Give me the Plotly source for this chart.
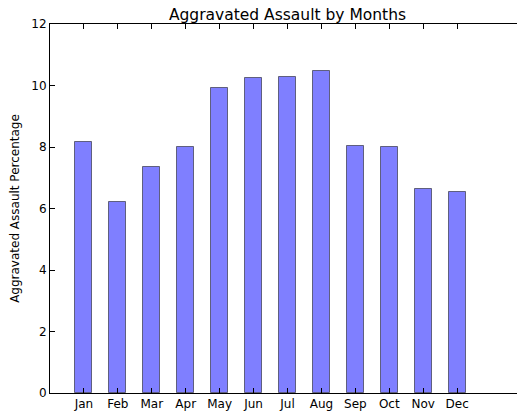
import plotly.graph_objects as go

months = ['Jan', 'Feb', 'Mar', 'Apr', 'May', 'Jun',
          'Jul', 'Aug', 'Sep', 'Oct', 'Nov', 'Dec']
positions = [1, 2, 3, 4, 5, 6, 7, 8, 9, 10, 11, 12]
percentages = [8.15, 6.20, 7.34, 8.01, 9.91, 10.23,
               10.29, 10.48, 8.03, 8.01, 6.62, 6.53]

fig = go.Figure()
fig.add_trace(go.Bar(
    x=positions,
    y=percentages,
    width=0.5,
    marker_color='rgb(127,127,255)',
    marker_line_color='rgba(0,0,0,0.5)',
    marker_line_width=1,
))

axis_style = dict(
    showline=True, linecolor='black', linewidth=1, mirror='ticks',
    ticks='inside', ticklen=5, tickcolor='black',
    showgrid=False, zeroline=False,
    tickfont=dict(family='DejaVu Sans', size=12, color='black'),
)

# page body has an 8px margin, so the figure is a bit smaller than the window
fig.update_layout(
    width=517, height=409,
    margin=dict(l=42, r=0, t=16, b=24, autoexpand=False),
    paper_bgcolor='white', plot_bgcolor='white',
    showlegend=False,
    bargap=0,
    title=dict(text='Aggravated Assault by Months', x=0.5406, xanchor='center',
               y=0.985, yanchor='middle',
               font=dict(family='DejaVu Sans', size=15.5, color='black')),
    xaxis=dict(range=[0, 14], tickvals=positions, ticktext=months, **axis_style),
    yaxis=dict(range=[0, 12], tickvals=[0, 2, 4, 6, 8, 10, 12],
               title=dict(text='Aggravated Assault Percentage', standoff=10,
                          font=dict(family='DejaVu Sans', size=12, color='black')),
               **axis_style),
)

fig.write_html("out.html")
